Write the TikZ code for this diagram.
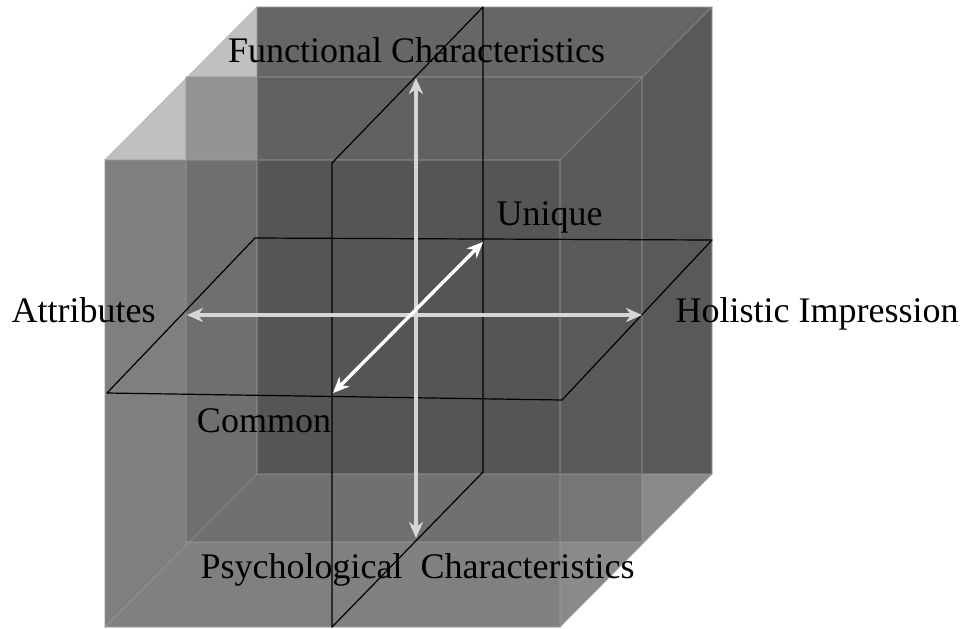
\documentclass[tikz,border=0pt]{standalone}
\usepackage{fontspec}
\setmainfont{Liberation Serif}
\usetikzlibrary{arrows.meta}
\definecolor{toplight}{HTML}{C0C0C0}
\definecolor{topdark}{HTML}{666666}
\definecolor{rightdark}{HTML}{595959}
\definecolor{rightlight}{HTML}{8A8A8A}
\definecolor{leftfront}{HTML}{7F7F7F}
\definecolor{centre}{HTML}{505050}
\definecolor{bottomfront}{HTML}{808080}
\definecolor{midplane}{HTML}{5C5C5C}
\definecolor{edgegray}{HTML}{9A9A9A}
\definecolor{arrowgray}{HTML}{D6D6D6}
\tikzset{cubeedge/.style={draw=edgegray,draw opacity=.4,line width=.6pt},planeline/.style={draw=black,line width=.6pt,line join=round},axisarrow/.style={{Stealth[length=8pt,width=7pt,inset=2.5pt]}-{Stealth[length=8pt,width=7pt,inset=2.5pt]},line width=2pt},axislabel/.style={anchor=base,inner sep=0pt,font=\fontsize{18}{20}\selectfont}}
\begin{document}
\begin{tikzpicture}[x=.5pt,y=-.5pt]
 \useasboundingbox (0,0) rectangle (961,628);
 % faces of the cube as seen through it
 \fill[toplight] (105,160)--(257,7)--(257,160)--cycle;
 \fill[topdark] (257,7)--(712,7)--(560,160)--(257,160)--cycle;
 \fill[rightdark] (560,160)--(712,7)--(712,474)--(560,474)--cycle;
 \fill[rightlight] (560,474)--(712,474)--(560,627)--cycle;
 \fill[leftfront] (105,160)--(257,160)--(257,474)--(105,627)--cycle;
 \fill[centre] (257,160)--(560,160)--(560,474)--(257,474)--cycle;
 \fill[bottomfront] (105,627)--(257,474)--(560,474)--(560,627)--cycle;
 \fill[midplane,fill opacity=.43] (186,77) rectangle (642,542);
 \draw[cubeedge] (105,160) rectangle (560,627) (257,7) rectangle (712,474) (186,77) rectangle (642,542);
 \draw[cubeedge] (105,160)--(257,7) (560,160)--(712,7) (560,627)--(712,474) (105,627)--(257,474);
 % the two outlined planes
 \draw[planeline] (332,163)--(483,7)--(483,472)--(332,627)--cycle;
 \draw[planeline] (107,393)--(255,238)--(712,240)--(562,400)--cycle;
 \coordinate (vtop) at (416,78); \coordinate (vbot) at (416,538);
 \coordinate (hleft) at (187,315); \coordinate (hright) at (642,315);
 \coordinate (dfront) at (333,393); \coordinate (dback) at (483,242);
 \draw[axisarrow,arrowgray] (vtop)--(vbot);
 \draw[axisarrow,arrowgray] (hleft)--(hright);
 \draw[axisarrow,white,line width=1.7pt] (dfront)--(dback);
 \node[axislabel] (func) at (416.5,62) {Functional Characteristics};
 \node[axislabel] (psych) at (417.5,578) {Psychological~~Characteristics};
 \node[axislabel] (attr) at (83.5,322) {Attributes};
 \node[axislabel] (holi) at (817,322) {Holistic Impression};
 \node[axislabel] (uniq) at (549.5,225) {Unique};
 \node[axislabel] (comm) at (264,432) {Common};
\end{tikzpicture}
\end{document}
